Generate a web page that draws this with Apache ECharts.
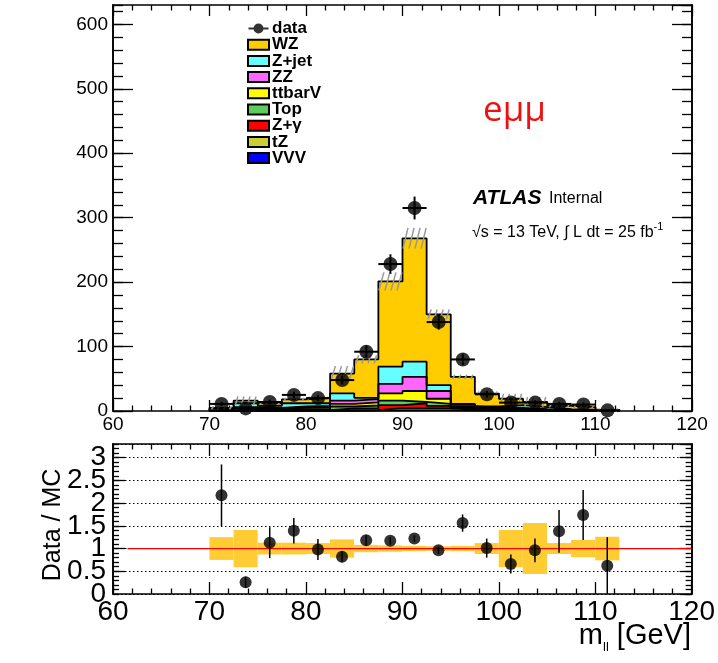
<!DOCTYPE html>
<html><head><meta charset="utf-8">
<script src="https://cdn.jsdelivr.net/npm/echarts@6/dist/echarts.min.js"></script>
<style>html,body{margin:0;padding:0;background:#fff}#c{width:718px;height:663px}</style>
</head><body><div id="c"></div><script>
// ---------- data ----------
const binEdges = [70,72.5,75,77.5,80,82.5,85,87.5,90,92.5,95,97.5,100,102.5,105,107.5,110,112.5];
const binCenters = [71.25,73.75,76.25,78.75,81.25,83.75,86.25,88.75,91.25,93.75,96.25,98.75,101.25,103.75,106.25,108.75,111.25];
const WZ     = [1.8, 4, 4, 6, 8, 30.5, 59.5, 132, 191.5, 110, 42, 20, 10, 8, 5, 4, 1.1];
const Zjet   = [1.5, 6, 3, 5, 4, 11.5, 2, 27, 23.5, 9, 0.5, 0.5, 4, 3, 1, 0.8, 0.2];
const ZZ     = [0.5, 1.5, 1.5, 2, 2.5, 5, 5, 14.5, 22, 12, 3, 1.5, 1.5, 1, 0.8, 0.5, 0.1];
const ttbarV = [0.3, 1, 1, 2, 2.5, 4, 5, 11.5, 17, 8, 2, 1.5, 1.5, 0.8, 0.5, 0.3, 0.1];
const Top    = [0.5, 2, 1.5, 1.5, 1.5, 3, 4, 7, 2, 3, 1.5, 1, 1, 0.6, 0.4, 0.2, 0.05];
const Zgamma = [0.3, 1, 0.7, 1, 1, 3, 3, 4.5, 8, 4, 2, 1.5, 0.7, 0.4, 0.2, 0.1, 0.03];
const tZ     = [0.1, 0.3, 0.2, 0.3, 0.3, 0.7, 1, 3.5, 3, 3, 1.5, 0.7, 0.2, 0.1, 0.05, 0.05, 0.01];
const VVV    = [0, 0.2, 0.1, 0.2, 0.2, 0.3, 0.5, 1, 1, 1, 0.5, 0.3, 0.1, 0.1, 0.05, 0.05, 0.01];
const dataVals = [11, 4, 14, 25, 20, 48, 92, 228, 315, 138, 80, 26, 13, 13, 11, 10, 1];
const dataErr  = [3.3, 2, 3.7, 5, 4.5, 6.9, 9.6, 15.1, 17.7, 11.7, 8.9, 5.1, 3.6, 3.6, 3.3, 3.2, 1];
const ratioVals = [2.17, 0.26, 1.13, 1.39, 0.98, 0.82, 1.18, 1.17, 1.22, 0.96, 1.56, 1.01, 0.66, 0.96, 1.38, 1.74, 0.62];
const ratioErr  = [0.68, 0.12, 0.34, 0.28, 0.23, 0.12, 0.12, 0.08, 0.07, 0.08, 0.19, 0.21, 0.21, 0.26, 0.47, 0.55, 0.63];
const mcBand    = [0.25, 0.41, 0.13, 0.13, 0.12, 0.2, 0.08, 0.07, 0.06, 0.05, 0.06, 0.12, 0.41, 0.56, 0.12, 0.19, 0.26];
const xTicks = [60, 70, 80, 90, 100, 110, 120];
// ------------------------------------------------

const comps = [
  {name:'WZ', vals:WZ, color:'#ffcc00'},
  {name:'Z+jet', vals:Zjet, color:'#66ffff'},
  {name:'ZZ', vals:ZZ, color:'#ff66ff'},
  {name:'ttbarV', vals:ttbarV, color:'#ffff00'},
  {name:'Top', vals:Top, color:'#5ccc5c'},
  {name:'Z+γ', vals:Zgamma, color:'#ff0000'},
  {name:'tZ', vals:tZ, color:'#cccc33'},
  {name:'VVV', vals:VVV, color:'#0000ff'}
];
const nb = dataVals.length;
const cum = comps.map((c,k)=> dataVals.map((_,i)=> comps.slice(k).reduce((s,cc)=>s+cc.vals[i],0)));
function stepData(arr){
  const pts=[[binEdges[0],0]];
  for(let i=0;i<nb;i++) pts.push([binEdges[i],arr[i]]);
  pts.push([binEdges[nb],arr[nb-1]]);
  pts.push([binEdges[nb],0]);
  return pts;
}
const FONT = 'Liberation Sans';
const xMin = xTicks[0], xMax = xTicks[xTicks.length-1];

function xAx(grid, pos, labels, fs){
  return {gridIndex:grid, type:'value', min:xMin, max:xMax, interval:10, position:pos,
    axisLine:{show:true,onZero:false,lineStyle:{color:'#000',width:1.6}},
    axisTick:{show:true,inside:true,length:grid===0?11:12,lineStyle:{color:'#000',width:1.3}},
    minorTick:{show:true,splitNumber:5,length:5.5,lineStyle:{color:'#000',width:1.3}},
    axisLabel:{show:labels,fontSize:fs,color:'#000',fontFamily:FONT,margin:4,hideOverlap:false,showMinLabel:true,showMaxLabel:true},
    splitLine:{show:false}};
}
function yAx(grid,pos,min,max,interval,len,labels,fs,split,showMin){
  return {gridIndex:grid, type:'value', min:min, max:max, interval:interval, position:pos,
    axisLine:{show:true,onZero:false,lineStyle:{color:'#000',width:1.6}},
    axisTick:{show:true,inside:true,length:len,lineStyle:{color:'#000',width:1.3}},
    axisLabel:{show:labels,fontSize:fs,color:'#000',fontFamily:FONT,margin:grid===0?5:7,
      showMaxLabel:false,showMinLabel:showMin,hideOverlap:false, formatter:v=>String(v)},
    splitLine:{show:!!split,lineStyle:{type:[1.5,2.5],color:'#000',width:1}}};
}

const series = [];
comps.forEach((c,k)=>{
  series.push({type:'line', name:c.name, xAxisIndex:0, yAxisIndex:0, data:stepData(cum[k]),
    step:'end', symbol:'none', showSymbol:false, itemStyle:{color:c.color},
    lineStyle:{color:'#000',width:1.8}, areaStyle:{color:c.color,opacity:1}, z:2, animation:false});
});
// MC uncertainty hatching
series.push({type:'custom', xAxisIndex:0, yAxisIndex:0, silent:true, z:3,
  data: cum[0].map((t,i)=>[binEdges[i],binEdges[i+1],t*(1-mcBand[i]),t*(1+mcBand[i])]),
  renderItem:(p,api)=>{
    const a=api.coord([api.value(0),api.value(3)]), b=api.coord([api.value(1),api.value(2)]);
    const w=b[0]-a[0], h=Math.max(b[1]-a[1],3);
    const y1=a[1]+ (b[1]-a[1]) /2 + h/2, y2=y1-h;
    const dx=Math.max(2,Math.min(5,h*0.3)), ch=[];
    for(let j=0;j<4;j++){const x0=a[0]+w*(j+0.5)/4-dx/2;
      ch.push({type:'line',shape:{x1:x0,y1:y1,x2:x0+dx,y2:y2},style:{stroke:'#999',lineWidth:1.5}});}
    return {type:'group',children:ch};
  }});
// data error bars
series.push({type:'custom', xAxisIndex:0, yAxisIndex:0, silent:true, z:4,
  data: dataVals.map((v,i)=>[binCenters[i],v,dataErr[i],binEdges[i],binEdges[i+1]]),
  renderItem:(p,api)=>{
    const c=api.coord([api.value(0),api.value(1)]);
    const l=api.coord([api.value(3),api.value(1)]), r=api.coord([api.value(4),api.value(1)]);
    const t=api.coord([api.value(0),api.value(1)+api.value(2)]), b=api.coord([api.value(0),Math.max(0,api.value(1)-api.value(2))]);
    return {type:'group',children:[
      {type:'line',shape:{x1:l[0],y1:c[1],x2:r[0],y2:c[1]},style:{stroke:'#000',lineWidth:2}},
      {type:'line',shape:{x1:c[0],y1:t[1],x2:c[0],y2:b[1]},style:{stroke:'#000',lineWidth:2}}]};
  }});
series.push({type:'scatter', name:'data', xAxisIndex:0, yAxisIndex:0, z:5,
  data: dataVals.map((v,i)=>[binCenters[i],v]), symbolSize:14, itemStyle:{color:'#000'}});

// ratio band
series.push({type:'custom', xAxisIndex:2, yAxisIndex:4, silent:true, z:2,
  data: mcBand.map((e,i)=>[binEdges[i],binEdges[i+1],1-e,1+e]),
  renderItem:(p,api)=>{
    const a=api.coord([api.value(0),api.value(3)]), b=api.coord([api.value(1),api.value(2)]);
    return {type:'rect',shape:{x:a[0],y:a[1],width:b[0]-a[0],height:b[1]-a[1]},style:{fill:'#ffcc33'}};
  }});
series.push({type:'line', xAxisIndex:2, yAxisIndex:4, data:[[61.5,1],[120,1]], symbol:'none',
  lineStyle:{color:'#ff0000',width:1.2}, z:3, silent:true});
series.push({type:'custom', xAxisIndex:2, yAxisIndex:4, silent:true, z:4,
  data: ratioVals.map((v,i)=>[binCenters[i],v,ratioErr[i]]),
  renderItem:(p,api)=>{
    const t=api.coord([api.value(0),api.value(1)+api.value(2)]), b=api.coord([api.value(0),Math.max(0,api.value(1)-api.value(2))]);
    return {type:'line',shape:{x1:t[0],y1:t[1],x2:b[0],y2:b[1]},style:{stroke:'#000',lineWidth:1.5}};
  }});
series.push({type:'scatter', xAxisIndex:2, yAxisIndex:4, z:5,
  data: ratioVals.map((v,i)=>[binCenters[i],v]), symbolSize:12, itemStyle:{color:'#000'}});

const legendData = [{name:'data', icon:'path://M0,9 L22,9 L22,11 L0,11 Z M11,4.5 A5.5,5.5 0 1,1 10.99,4.5 Z', itemStyle:{color:'#000',borderWidth:0}}]
  .concat(comps.map(c=>({name:c.name, icon:'rect', itemStyle:{color:c.color,borderColor:'#000',borderWidth:2}})));

// ratio-pad zero label axis (only the "0" label)
const zeroAxis = {gridIndex:1, type:'value', min:0, max:3.3, interval:5, position:'left',
  axisLine:{show:false}, axisTick:{show:false}, splitLine:{show:false},
  axisLabel:{show:true,fontSize:28,color:'#000',fontFamily:FONT,margin:7,showMinLabel:true,showMaxLabel:false,hideOverlap:false}};

const chart = echarts.init(document.getElementById('c'), null, {renderer:'canvas'});
chart.setOption({
  animation:false,
  backgroundColor:'#fff',
  grid:[{left:113,top:5,width:579,height:406},{left:113,top:444,width:579,height:150}],
  xAxis:[xAx(0,'bottom',true,19), xAx(0,'top',false,19), xAx(1,'bottom',true,28), xAx(1,'top',false,28)],
  yAxis:[
    yAx(0,'left',0,630,100,20,true,19,false,true), yAx(0,'left',0,630,20,10,false,19,false,true),
    yAx(0,'right',0,630,100,20,false,19,false,true), yAx(0,'right',0,630,20,10,false,19,false,true),
    Object.assign(yAx(1,'left',0,3.3,0.5,12,true,28,true,false),{name:'Data / MC',nameLocation:'middle',nameGap:47,
      nameMoveOverlap:false, nameTextStyle:{fontSize:25,color:'#000',fontFamily:FONT,padding:[0,12,0,0]}}),
    yAx(1,'left',0,3.3,0.1,6,false,28,false,true),
    yAx(1,'right',0,3.3,0.5,12,false,28,false,true), yAx(1,'right',0,3.3,0.1,6,false,28,false,true),
    zeroAxis
  ],
  legend:{data:legendData, orient:'vertical', left:247, top:20, padding:0, itemWidth:21, itemHeight:10, itemGap:-0.8,
    selectedMode:false, textStyle:{fontSize:17, fontWeight:'bold', fontFamily:FONT, color:'#000', lineHeight:14, padding:[0,0,0,-2]}},
  graphic:[
    {type:'text', left:483, top:94, style:{text:'eμμ', fontSize:35, fill:'#ee1111', fontFamily:'Open Sans'}},
    {type:'text', left:473, top:188, style:{text:'ATLAS', font:'italic bold 21px "Liberation Sans"', fill:'#000'}},
    {type:'text', left:549, top:191, style:{text:'Internal', font:'16px "Liberation Sans"', fill:'#000'}},
    {type:'text', left:472, top:221, style:{text:'{n|√s = 13 TeV, ∫ L dt = 25 fb}{s|-1}',
      rich:{n:{fontSize:16, fontFamily:FONT, fill:'#000', verticalAlign:'bottom', lineHeight:20},
            s:{fontSize:11, fontFamily:FONT, fill:'#000', verticalAlign:'top', lineHeight:20}}}},
    {type:'text', right:27, top:617, style:{text:'{a|m}{s|ll}{a| [GeV]}',
      rich:{a:{fontSize:29, fontFamily:FONT, fill:'#000', lineHeight:34},
            s:{fontSize:13, fontFamily:FONT, fill:'#000', lineHeight:13, padding:[24,0,0,0]}}}}
  ],
  series:series
});
</script></body></html>
